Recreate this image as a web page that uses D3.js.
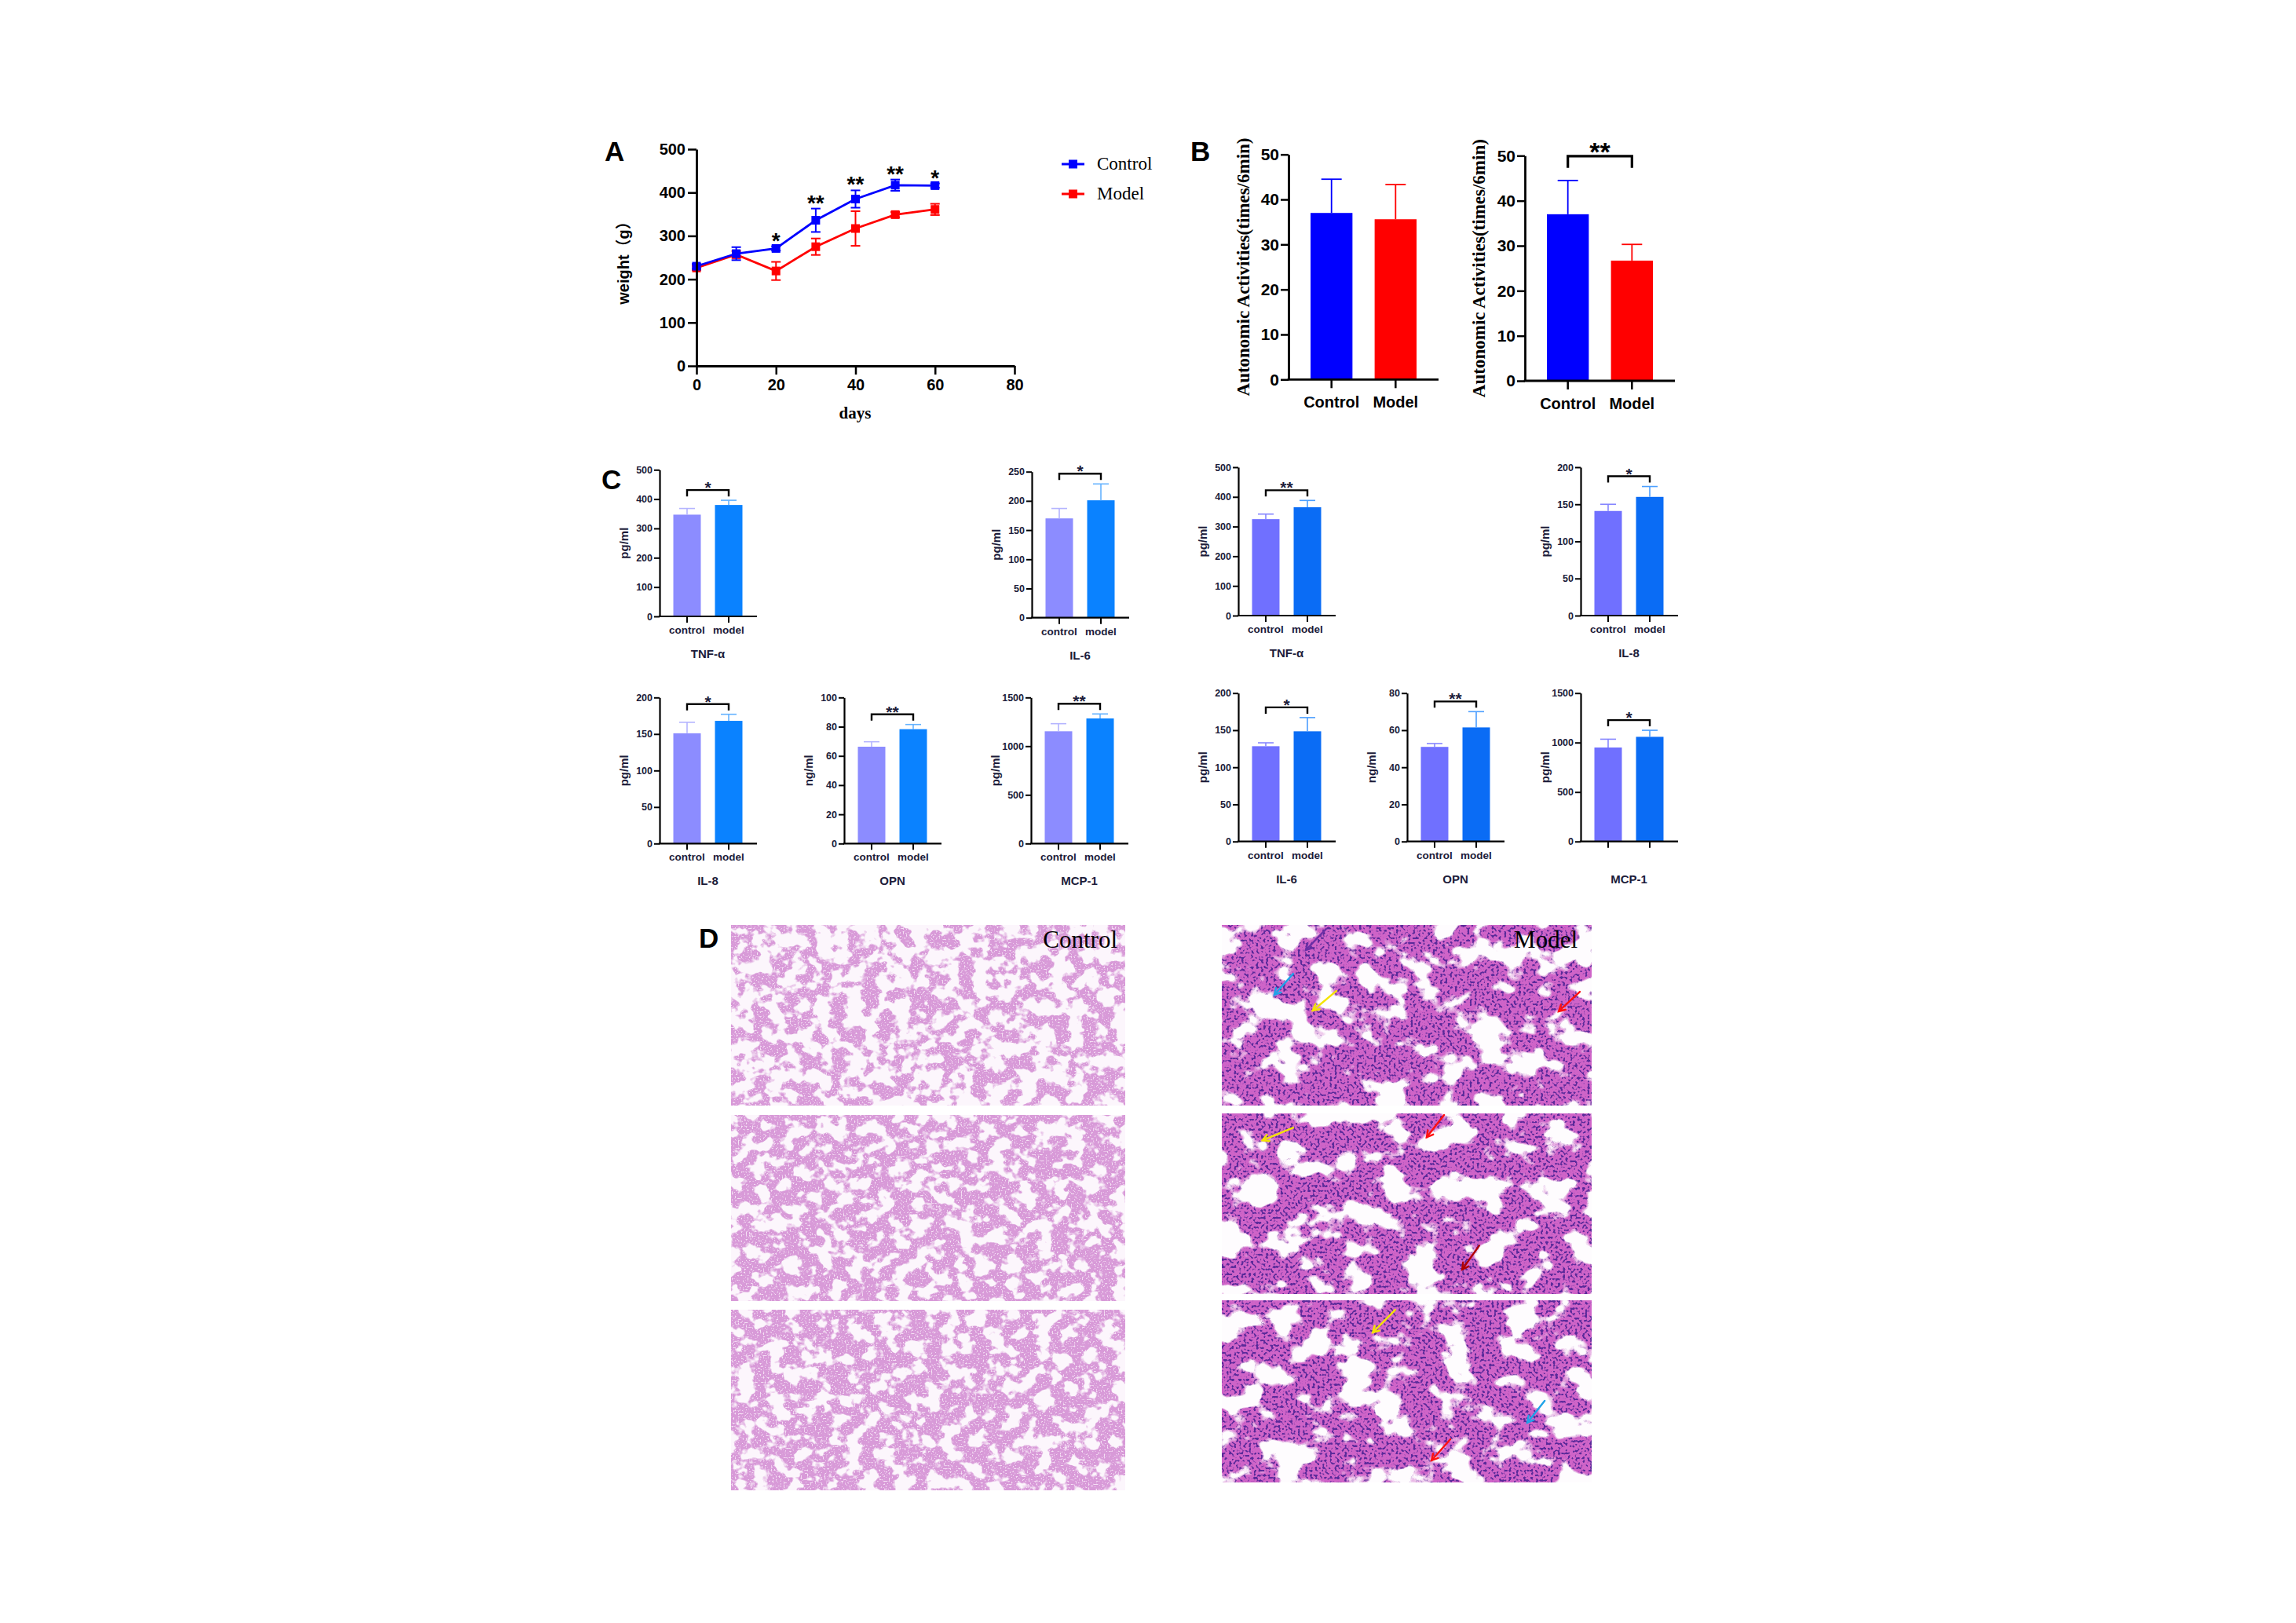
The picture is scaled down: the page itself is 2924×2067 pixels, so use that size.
<!DOCTYPE html>
<html lang="en">
<head>
<meta charset="utf-8" />
<title>Weight, activity, cytokines and lung histology</title>
<style>
html, body {
	margin: 0;
	background: #fff;
}
svg {
	display: block;
}
</style>
</head>
<body>
<svg id="fig" width="2924" height="2067"></svg>

<script src="https://cdn.jsdelivr.net/npm/d3@7/dist/d3.min.js"></script>
<script>

// ---- A: body weight ----
var days = [0, 10, 20, 30, 40, 50, 60];
var controlWeight = [230, 259, 271, 336, 385, 417, 416];
var controlWeightErr = [5, 15, 5, 27, 20, 13, 5];
var modelWeight = [226, 257, 219, 275, 317, 349, 361];
var modelWeightErr = [5, 8, 21, 19, 40, 6, 13];
var weightStars = ["", "", "*", "**", "**", "**", "*"];
var weightTicksX = [0, 20, 40, 60, 80];
var weightTicksY = [0, 100, 200, 300, 400, 500];

// ---- B: autonomic activity ----
var groups = ["Control", "Model"];
var activity1 = [37.0, 35.6];
var activity1Err = [7.5, 7.7];
var activity2 = [37.0, 26.7];
var activity2Err = [7.5, 3.6];
var activityStars = ["", "**"];

// ---- C: cytokines (10 small charts) ----
var cytoGroups = ["control", "model"];
var cytoNames = ["TNF-α", "IL-6", "TNF-α", "IL-8", "IL-8", "OPN", "MCP-1", "IL-6", "OPN", "MCP-1"];
var cytoUnits = ["pg/ml", "pg/ml", "pg/ml", "pg/ml", "pg/ml", "ng/ml", "pg/ml", "pg/ml", "ng/ml", "pg/ml"];
var cytoMax = [500, 250, 500, 200, 200, 100, 1500, 200, 80, 1500];
var cytoStep = [100, 50, 100, 50, 50, 20, 500, 50, 20, 500];
var cytoControl = [347, 170, 325, 141, 151, 66.3, 1153, 128.4, 51, 950];
var cytoControlErr = [21, 17, 17, 9, 15, 3.4, 78, 4.6, 1.8, 84];
var cytoModel = [380, 201, 365, 160, 168, 78.3, 1285, 148.5, 61.5, 1058];
var cytoModelErr = [16, 28, 23, 14, 9, 3.2, 46, 18.5, 8.5, 66];
var cytoStars = ["*", "*", "**", "*", "*", "**", "**", "*", "**", "*"];

// ---- D: histology panels ----
var histoLabels = ["Control", "Model"];
// arrows on the model sections: [panel row, u0, v0, u1, v1, colour]
var histoArrows = [
	[0, 0.282, 0.022, 0.227, 0.139, "#6b2fa6"],
	[0, 0.193, 0.270, 0.142, 0.387, "#1fa3e8"],
	[0, 0.310, 0.365, 0.246, 0.474, "#f4e400"],
	[0, 0.968, 0.370, 0.911, 0.478, "#ff1010"],
	[1, 0.193, 0.079, 0.110, 0.149, "#f4e400"],
	[1, 0.601, 0.009, 0.554, 0.132, "#ff1010"],
	[1, 0.696, 0.732, 0.650, 0.864, "#b00000"],
	[2, 0.469, 0.052, 0.408, 0.177, "#f4e400"],
	[2, 0.873, 0.552, 0.826, 0.672, "#1fa3e8"],
	[2, 0.618, 0.763, 0.567, 0.879, "#ff1010"]
];

var SANS = '"Liberation Sans", Arial, Helvetica, sans-serif';
var SERIF = '"Liberation Serif", "Times New Roman", serif';

var svg = d3.select("#fig");

function panelLetter(t, x, y) {
	svg.append("text").attr("x", x).attr("y", y).text(t)
		.attr("font-family", SANS).attr("font-weight", "bold").attr("font-size", 35).attr("fill", "#000");
}

function styleAxis(g, sw, fs, fam, col) {
	g.select(".domain").attr("stroke", "#000").attr("stroke-width", sw);
	g.selectAll(".tick line").attr("stroke", "#000").attr("stroke-width", sw * 0.9);
	g.selectAll(".tick text").attr("font-family", fam).attr("font-weight", "bold")
		.attr("font-size", fs).attr("fill", col);
}

// ================= A =================
panelLetter("A", 770, 205);

var xA = d3.scaleLinear().domain([0, 80]).range([887, 1292]);
var yA = d3.scaleLinear().domain([0, 500]).range([466, 190]);

var seriesA = [
	{ name: "Model", v: modelWeight, e: modelWeightErr, color: "#ff0000" },
	{ name: "Control", v: controlWeight, e: controlWeightErr, color: "#0000ff" }
];

var gA = svg.append("g");
seriesA.forEach(function(s) {
	var g = gA.append("g");
	// error bars
	days.forEach(function(d, i) {
		var x = xA(d), t = yA(s.v[i] + s.e[i]), b = yA(s.v[i] - s.e[i]);
		g.append("line").attr("x1", x).attr("x2", x).attr("y1", t).attr("y2", b)
			.attr("stroke", s.color).attr("stroke-width", 2);
		[t, b].forEach(function(yy) {
			g.append("line").attr("x1", x - 6).attr("x2", x + 6).attr("y1", yy).attr("y2", yy)
				.attr("stroke", s.color).attr("stroke-width", 2);
		});
	});
	var line = d3.line().x(function(d, i) { return xA(days[i]); }).y(function(d) { return yA(d); });
	g.append("path").datum(s.v).attr("d", line).attr("fill", "none")
		.attr("stroke", s.color).attr("stroke-width", 2.8);
	g.selectAll("rect").data(s.v).join("rect")
		.attr("x", function(d, i) { return xA(days[i]) - 5.5; })
		.attr("y", function(d) { return yA(d) - 5.5; })
		.attr("width", 11).attr("height", 11).attr("fill", s.color);
});

// stars above control
gA.selectAll("text.star").data(weightStars).join("text")
	.attr("class", "star")
	.attr("x", function(d, i) { return xA(days[i]); })
	.attr("y", function(d, i) { return yA(controlWeight[i] + controlWeightErr[i]) + 2; })
	.attr("text-anchor", "middle")
	.attr("font-family", SANS).attr("font-weight", "bold").attr("font-size", 28)
	.text(function(d) { return d; });

var axA = gA.append("g").attr("transform", "translate(0,466)")
	.call(d3.axisBottom(xA).tickValues(weightTicksX).tickSize(11).tickSizeOuter(0).tickPadding(6));
styleAxis(axA, 2.8, 20, SANS, "#000");
var ayA = gA.append("g").attr("transform", "translate(887,0)")
	.call(d3.axisLeft(yA).tickValues(weightTicksY).tickSize(11).tickSizeOuter(0).tickPadding(3));
styleAxis(ayA, 2.8, 20, SANS, "#000");

gA.append("text").attr("transform", "translate(801,330) rotate(-90)")
	.attr("text-anchor", "middle").attr("font-family", SANS + ', "Noto Sans CJK SC"')
	.attr("font-weight", "bold").attr("font-size", 20).text("weight（g）");
gA.append("text").attr("x", 1089).attr("y", 533).attr("text-anchor", "middle")
	.attr("font-family", SERIF).attr("font-weight", "bold").attr("font-size", 21).text("days");

// legend
var legA = gA.append("g");
[["Control", "#0000ff", 209], ["Model", "#ff0000", 247]].forEach(function(l) {
	legA.append("line").attr("x1", 1352).attr("x2", 1381).attr("y1", l[2]).attr("y2", l[2])
		.attr("stroke", l[1]).attr("stroke-width", 3);
	legA.append("rect").attr("x", 1361).attr("y", l[2] - 5.5).attr("width", 11).attr("height", 11).attr("fill", l[1]);
	legA.append("text").attr("x", 1397).attr("y", l[2] + 7).text(l[0])
		.attr("font-family", SERIF).attr("font-size", 23).attr("fill", "#000");
});

// ================= generic bar chart (B and C) =================
function barChart(o) {
	var g = svg.append("g").attr("transform", "translate(" + o.x + ",0)");
	var y = d3.scaleLinear().domain([0, o.max]).range([o.y0, o.y1]);
	var x = d3.scaleBand().domain(o.cats).range(o.band).paddingInner(o.padIn);
	var bw = x.bandwidth();

	g.selectAll("rect.bar").data(o.values).join("rect").attr("class", "bar")
		.attr("x", function(d, i) { return x(o.cats[i]); })
		.attr("y", function(d) { return y(d); })
		.attr("width", bw)
		.attr("height", function(d) { return y(0) - y(d); })
		.attr("fill", function(d, i) { return o.colors[i]; });

	// one-sided error bars
	o.values.forEach(function(v, i) {
		var cx = x(o.cats[i]) + bw / 2, t = y(v + o.errs[i]);
		g.append("line").attr("x1", cx).attr("x2", cx).attr("y1", y(v)).attr("y2", t)
			.attr("stroke", o.errColors[i]).attr("stroke-width", o.errW);
		g.append("line").attr("x1", cx - o.cap / 2).attr("x2", cx + o.cap / 2).attr("y1", t).attr("y2", t)
			.attr("stroke", o.errColors[i]).attr("stroke-width", o.errW);
	});

	// axes
	var ay = g.append("g").call(d3.axisLeft(y).tickValues(d3.range(0, o.max + 1e-9, o.step))
		.tickFormat(d3.format("d")).tickSize(o.tick).tickSizeOuter(0).tickPadding(2));
	styleAxis(ay, o.sw, o.tickFont, SANS, o.textColor);
	g.append("line").attr("x1", -o.sw / 2).attr("x2", o.len).attr("y1", o.y0).attr("y2", o.y0)
		.attr("stroke", "#000").attr("stroke-width", o.sw);
	o.cats.forEach(function(c, i) {
		var cx = x(c) + bw / 2;
		g.append("line").attr("x1", cx).attr("x2", cx).attr("y1", o.y0).attr("y2", o.y0 + o.tick + 1)
			.attr("stroke", "#000").attr("stroke-width", o.sw * 0.9);
		if (o.showCats) {
			g.append("text").attr("x", cx).attr("y", o.y0 + o.catDy).attr("text-anchor", "middle")
				.attr("font-family", SANS).attr("font-weight", "bold").attr("font-size", o.catFont)
				.attr("fill", o.textColor).text(c);
		}
	});

	// significance bracket above the taller error bar
	if (o.star) {
		var tops = o.values.map(function(v, i) { return y(v + o.errs[i]); });
		var by = d3.min(tops) - o.bracketGap;
		var c0 = x(o.cats[0]) + bw / 2, c1 = x(o.cats[1]) + bw / 2;
		g.append("path").attr("d", "M" + c0 + "," + (by + o.leg) + "V" + by + "H" + c1 + "V" + (by + o.leg))
			.attr("fill", "none").attr("stroke", "#000").attr("stroke-width", o.bracketW);
		g.append("text").attr("x", (c0 + c1) / 2).attr("y", by + o.starDy).attr("text-anchor", "middle")
			.attr("font-family", SANS).attr("font-weight", "bold").attr("font-size", o.starFont)
			.attr("fill", o.textColor).text(o.star);
	}

	// y label
	g.append("text").attr("transform", "translate(" + o.labX + "," + ((o.y0 + o.y1) / 2) + ") rotate(-90)")
		.attr("text-anchor", "middle").attr("font-family", o.labFamily).attr("font-weight", "bold")
		.attr("font-size", o.labFont).attr("fill", o.textColor).text(o.label);

	if (o.name) {
		g.append("text").attr("x", (x(o.cats[0]) + x(o.cats[1]) + bw) / 2).attr("y", o.y0 + o.nameDy)
			.attr("text-anchor", "middle").attr("font-family", SANS).attr("font-weight", "bold")
			.attr("font-size", o.nameFont).attr("fill", o.textColor).text(o.name);
	}
}

// ================= B =================
panelLetter("B", 1516, 205);

var bFrames = [
	{ x: 1641, y0: 483.3, y1: 196.7, v: activity1, e: activity1Err, star: activityStars[0], labX: -50 },
	{ x: 1942, y0: 485, y1: 198.3, v: activity2, e: activity2Err, star: activityStars[1], labX: -51 }
];
bFrames.forEach(function(f) {
	barChart({
		x: f.x, y0: f.y0, y1: f.y1, max: 50, step: 10, cats: groups,
		band: [28, 163], padIn: 0.346, len: 191,
		values: f.v, errs: f.e,
		colors: ["#0000ff", "#ff0000"], errColors: ["#0000ff", "#ff0000"],
		errW: 1.8, cap: 26, sw: 2.8, tick: 10, tickFont: 21, textColor: "#000",
		showCats: true, catDy: 36, catFont: 20,
		star: f.star, bracketGap: 31, leg: 15, bracketW: 3.2, starDy: 6, starFont: 34,
		labX: f.labX, labFamily: SERIF, labFont: 23, label: "Autonomic Activities(times/6min)"
	});
});

// ================= C =================
panelLetter("C", 766, 623);

var leftPal = { colors: ["#8c8cff", "#0a82ff"], errColors: ["#b4b4ff", "#64b2ff"] };
var rightPal = { colors: ["#7070ff", "#0a6cf5"], errColors: ["#8686ff", "#4c9fff"] };
var cFrames = [
	{ x: 840, y0: 785, y1: 598.3, pal: leftPal, cats: true },
	{ x: 1314, y0: 786.7, y1: 600.7, pal: leftPal, cats: true },
	{ x: 1577, y0: 784, y1: 595, pal: rightPal, cats: true },
	{ x: 2013, y0: 784, y1: 595, pal: rightPal, cats: true },
	{ x: 840, y0: 1074.3, y1: 888.3, pal: leftPal, cats: true },
	{ x: 1075, y0: 1074.3, y1: 888.3, pal: leftPal, cats: true },
	{ x: 1313, y0: 1074.3, y1: 888.3, pal: leftPal, cats: true },
	{ x: 1577, y0: 1071.7, y1: 882.7, pal: rightPal, cats: true },
	{ x: 1792, y0: 1071.7, y1: 882.7, pal: rightPal, cats: true },
	{ x: 2013, y0: 1071.7, y1: 882.7, pal: rightPal, cats: false }
];
cFrames.forEach(function(f, i) {
	barChart({
		x: f.x, y0: f.y0, y1: f.y1, max: cytoMax[i], step: cytoStep[i], cats: cytoGroups,
		band: [17.5, 105.5], padIn: 0.34, len: 124,
		values: [cytoControl[i], cytoModel[i]], errs: [cytoControlErr[i], cytoModelErr[i]],
		colors: f.pal.colors, errColors: f.pal.errColors,
		errW: 1.6, cap: 20, sw: 2.2, tick: 7, tickFont: 12.5, textColor: "#1c1c3a",
		showCats: f.cats, catDy: 22, catFont: 13.5,
		star: cytoStars[i], bracketGap: 13, leg: 8, bracketW: 2.4, starDy: 4, starFont: 21,
		labX: -40, labFamily: SANS, labFont: 15, label: cytoUnits[i],
		name: cytoNames[i], nameDy: 53, nameFont: 15
	});
});

// ================= D =================
panelLetter("D", 890, 1207);

var defs = svg.append("defs");

// procedural H&E-like texture: tissue where the noise is low, white alveoli where it is high
function tissueFilter(id, freq, seed, tissue, nuc, thr, nucFreq, nucAmt, nucOff) {
	var f = defs.append("filter").attr("id", id)
		.attr("x", 0).attr("y", 0).attr("width", 1).attr("height", 1)
		.attr("filterUnits", "objectBoundingBox")
		.attr("color-interpolation-filters", "sRGB");
	f.append("feTurbulence").attr("type", "fractalNoise").attr("baseFrequency", freq)
		.attr("numOctaves", 3).attr("seed", seed).attr("result", "noise");
	var c = d3.color(tissue), n = d3.color(nuc);
	f.append("feColorMatrix").attr("in", "noise").attr("type", "matrix")
		.attr("values", [0, 0, 0, 0, c.r / 255, 0, 0, 0, 0, c.g / 255, 0, 0, 0, 0, c.b / 255, -12, 0, 0, 0, 12 * thr].join(" "))
		.attr("result", "tissue");
	f.append("feTurbulence").attr("type", "fractalNoise").attr("baseFrequency", nucFreq)
		.attr("numOctaves", 1).attr("seed", seed + 11).attr("result", "grain");
	f.append("feColorMatrix").attr("in", "grain").attr("type", "matrix")
		.attr("values", [0, 0, 0, 0, n.r / 255, 0, 0, 0, 0, n.g / 255, 0, 0, 0, 0, n.b / 255, -nucAmt, 0, 0, 0, nucAmt * nucOff].join(" "))
		.attr("result", "dots");
	f.append("feComposite").attr("in", "dots").attr("in2", "tissue").attr("operator", "in").attr("result", "dotsIn");
	var m = f.append("feMerge");
	m.append("feMergeNode").attr("in", "tissue");
	m.append("feMergeNode").attr("in", "dotsIn");
}

var ctrlRows = [[1178, 1408], [1420, 1657], [1668, 1898]];
var modelRows = [[1178, 1408], [1418, 1648], [1656, 1888]];
var histoCols = [[931, 1433], [1556, 2027]];
var ctrlThr = [0.535, 0.57, 0.58];

ctrlRows.forEach(function(r, i) {
	tissueFilter("tc" + i, "0.05 0.058", 3 + i * 5, "#d89ad8", "#f6e2f6", ctrlThr[i], 0.5, 6, 0.44);
	svg.append("rect").attr("x", histoCols[0][0]).attr("y", r[0])
		.attr("width", histoCols[0][1] - histoCols[0][0]).attr("height", r[1] - r[0])
		.attr("fill", "#fcf6fc");
	svg.append("rect").attr("x", histoCols[0][0]).attr("y", r[0])
		.attr("width", histoCols[0][1] - histoCols[0][0]).attr("height", r[1] - r[0])
		.attr("fill", "#fff").attr("filter", "url(#tc" + i + ")");
});
modelRows.forEach(function(r, i) {
	tissueFilter("tm" + i, "0.024 0.03", 21 + i * 7, "#cf64c8", "#5b2a9a", 0.6, 0.32, 9, 0.47);
	svg.append("rect").attr("x", histoCols[1][0]).attr("y", r[0])
		.attr("width", histoCols[1][1] - histoCols[1][0]).attr("height", r[1] - r[0])
		.attr("fill", "#fefcfe");
	svg.append("rect").attr("x", histoCols[1][0]).attr("y", r[0])
		.attr("width", histoCols[1][1] - histoCols[1][0]).attr("height", r[1] - r[0])
		.attr("fill", "#fff").attr("filter", "url(#tm" + i + ")");
});

// labels on the first row
svg.append("text").attr("x", histoCols[0][1] - 10).attr("y", 1207).attr("text-anchor", "end")
	.attr("font-family", SERIF).attr("font-size", 31).attr("fill", "#000").text(histoLabels[0]);
svg.append("text").attr("x", histoCols[1][1] - 18).attr("y", 1207).attr("text-anchor", "end")
	.attr("font-family", SERIF).attr("font-size", 31).attr("fill", "#000").text(histoLabels[1]);

// arrows
histoArrows.forEach(function(a) {
	var r = modelRows[a[0]], c = histoCols[1];
	var w = c[1] - c[0], h = r[1] - r[0];
	var x0 = c[0] + a[1] * w, y0 = r[0] + a[2] * h, x1 = c[0] + a[3] * w, y1 = r[0] + a[4] * h;
	var ang = Math.atan2(y1 - y0, x1 - x0), L = 9;
	var g = svg.append("g").attr("stroke", a[5]).attr("stroke-width", 2.4).attr("fill", "none")
		.attr("stroke-linecap", "round");
	g.append("line").attr("x1", x0).attr("y1", y0).attr("x2", x1).attr("y2", y1);
	g.append("path").attr("d",
		"M" + (x1 - L * Math.cos(ang - 0.5)) + "," + (y1 - L * Math.sin(ang - 0.5)) +
		"L" + x1 + "," + y1 +
		"L" + (x1 - L * Math.cos(ang + 0.5)) + "," + (y1 - L * Math.sin(ang + 0.5)));
});

</script>
</body>
</html>
